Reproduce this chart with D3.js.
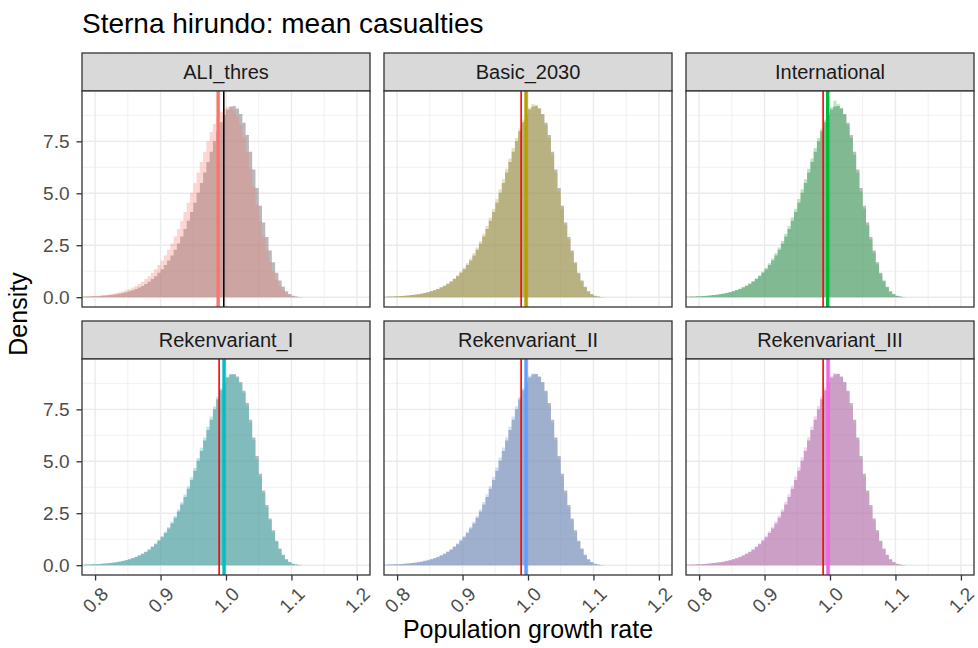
<!DOCTYPE html>
<html>
<head>
<meta charset="utf-8">
<script src="https://cdn.jsdelivr.net/npm/d3@7"></script>
<style>
  body { margin: 0; background: #fff; }
  text { font-family: "Liberation Sans", Arial, Helvetica, sans-serif; }
</style>
</head>
<body>
<div id="chart-area"></div>
<script>
// canvas
const width = 978, height = 648;

// facets
const scenarios = ["ALI_thres", "Basic_2030", "International", "Rekenvariant_I", "Rekenvariant_II", "Rekenvariant_III"];
const scenarioColors = ["#F8766D", "#B79F00", "#00BA38", "#00BFC4", "#619CFF", "#F564E3"];

// histogram bins (left edges start at binStart, width binWidth)
const binStart = 0.78, binWidth = 0.005;

// grey reference histogram (same in every panel)
const baseline = [0.02,0.03,0.03,0.04,0.05,0.06,0.07,0.08,0.10,0.12,
  0.14,0.17,0.20,0.24,0.28,0.33,0.39,0.46,0.54,0.63,
  0.74,0.87,1.01,1.17,1.35,1.55,1.77,2.01,2.28,2.58,
  2.92,3.28,3.68,4.10,4.55,5.02,5.50,6.00,6.50,7.00,
  7.50,7.98,8.42,8.78,9.03,9.18,9.20,9.08,8.82,8.40,
  7.80,7.00,6.15,5.25,4.40,3.60,2.90,2.25,1.68,1.18,
  0.80,0.50,0.29,0.15,0.07,0.03,0.01,0.00];

// scenario histograms
const aliThres = [0.03,0.04,0.05,0.06,0.07,0.08,0.10,0.12,0.14,0.17,
  0.20,0.24,0.28,0.33,0.39,0.46,0.54,0.63,0.74,0.87,
  1.01,1.17,1.35,1.55,1.77,2.01,2.28,2.58,2.92,3.28,
  3.68,4.10,4.55,5.02,5.50,6.00,6.50,7.00,7.50,7.95,
  8.35,8.68,8.92,9.08,9.16,9.12,8.98,8.70,8.28,7.70,
  6.98,6.18,5.30,4.45,3.65,2.92,2.28,1.70,1.22,0.84,
  0.55,0.33,0.18,0.09,0.04,0.02,0.01,0.00];
const basic2030 = [0.02,0.03,0.03,0.04,0.05,0.06,0.07,0.09,0.11,0.13,
  0.15,0.18,0.21,0.25,0.30,0.35,0.41,0.49,0.57,0.67,
  0.78,0.91,1.06,1.23,1.42,1.63,1.86,2.11,2.39,2.70,
  3.05,3.42,3.83,4.26,4.72,5.20,5.68,6.18,6.68,7.18,
  7.66,8.12,8.54,8.88,9.12,9.30,9.26,9.10,8.78,8.30,
  7.66,6.85,6.00,5.10,4.25,3.46,2.78,2.14,1.58,1.10,
  0.74,0.46,0.26,0.13,0.06,0.03,0.01,0.00];
const international = [0.02,0.03,0.03,0.04,0.05,0.06,0.07,0.09,0.11,0.13,
  0.15,0.18,0.21,0.25,0.30,0.35,0.41,0.49,0.57,0.67,
  0.78,0.91,1.06,1.23,1.42,1.63,1.86,2.11,2.39,2.70,
  3.05,3.42,3.83,4.26,4.72,5.20,5.68,6.18,6.68,7.18,
  7.66,8.12,8.54,8.90,9.14,9.45,9.28,9.10,8.78,8.30,
  7.66,6.85,6.00,5.10,4.25,3.46,2.78,2.14,1.58,1.10,
  0.74,0.46,0.26,0.13,0.06,0.03,0.01,0.00];
const rekenI = [0.02,0.03,0.03,0.04,0.05,0.06,0.08,0.09,0.11,0.13,
  0.15,0.18,0.21,0.25,0.29,0.35,0.41,0.48,0.57,0.66,
  0.78,0.91,1.05,1.22,1.41,1.62,1.84,2.09,2.37,2.68,
  3.03,3.40,3.80,4.23,4.68,5.16,5.65,6.15,6.66,7.15,
  7.64,8.10,8.52,8.85,9.08,9.20,9.16,9.02,8.74,8.30,
  7.68,6.88,6.02,5.12,4.28,3.48,2.80,2.16,1.60,1.12,
  0.75,0.47,0.27,0.14,0.06,0.03,0.01,0.00];
const rekenII = [0.02,0.03,0.04,0.04,0.05,0.06,0.07,0.09,0.11,0.13,
  0.15,0.18,0.22,0.26,0.30,0.35,0.42,0.49,0.57,0.67,
  0.78,0.92,1.06,1.23,1.42,1.62,1.85,2.10,2.38,2.69,
  3.04,3.41,3.81,4.24,4.70,5.18,5.66,6.16,6.67,7.16,
  7.65,8.11,8.53,8.87,9.10,9.24,9.20,9.04,8.76,8.31,
  7.68,6.87,6.01,5.12,4.27,3.47,2.79,2.15,1.59,1.11,
  0.75,0.46,0.26,0.14,0.06,0.03,0.01,0.00];
const rekenIII = [0.02,0.03,0.03,0.04,0.05,0.06,0.07,0.09,0.11,0.13,
  0.15,0.18,0.21,0.25,0.30,0.35,0.41,0.49,0.57,0.67,
  0.78,0.91,1.06,1.23,1.42,1.63,1.86,2.11,2.39,2.70,
  3.05,3.42,3.82,4.25,4.71,5.19,5.67,6.17,6.67,7.17,
  7.66,8.12,8.54,8.88,9.11,9.25,9.22,9.06,8.77,8.31,
  7.67,6.86,6.00,5.11,4.26,3.46,2.78,2.14,1.58,1.10,
  0.74,0.46,0.26,0.13,0.06,0.03,0.01,0.00];
const scenarioDensity = [aliThres, basic2030, international, rekenI, rekenII, rekenIII];

// vertical lines: thick = scenario mean, thin = reference mean
const scenarioMeans = [0.988, 0.997, 0.9965, 0.997, 0.997, 0.997];
const refMeans = [0.9966, 0.9895, 0.9895, 0.9895, 0.9895, 0.9895];
const refLineColors = ["black", "red", "red", "red", "red", "red"];

// axes
const xLimits = [0.8, 1.2];
const xTicks = [0.8, 0.9, 1.0, 1.1, 1.2];
const xMinor = [0.85, 0.95, 1.05, 1.15];
const yTicks = [0, 2.5, 5, 7.5];
const yMinor = [1.25, 3.75, 6.25, 8.75];

// layout
const marginLeft = 82, marginTop = 53;
const panelW = 288, stripH = 38, plotH = 216, gapX = 14, gapY = 14;

const svg = d3.select("#chart-area").append("svg")
  .attr("width", width)
  .attr("height", height);

svg.append("rect").attr("width", width).attr("height", height).attr("fill", "#fff");

// scales
let xPad = (xLimits[1] - xLimits[0]) * 0.05;
let x = d3.scaleLinear()
  .domain([xLimits[0] - xPad, xLimits[1] + xPad])
  .range([0, panelW]);

let yMax = d3.max([baseline].concat(scenarioDensity), s => d3.max(s));
let y = d3.scaleLinear()
  .domain([-0.05 * yMax, 1.05 * yMax])
  .range([plotH, 0]);

// step area for a histogram
function histPath(values) {
  let pts = values.map((d, i) => [binStart + i * binWidth, d]);
  pts.push([binStart + values.length * binWidth, values[values.length - 1]]);
  return d3.area()
    .x(p => x(p[0]))
    .y0(y(0))
    .y1(p => y(p[1]))
    .curve(d3.curveStepAfter)(pts);
}

let defs = svg.append("defs");
defs.append("clipPath").attr("id", "panel-clip")
  .append("rect").attr("width", panelW).attr("height", plotH);

scenarios.forEach((name, i) => {
  let col = i % 3, row = Math.floor(i / 3);
  let px = marginLeft + col * (panelW + gapX);
  let py = marginTop + row * (stripH + plotH + gapY);

  // strip
  let strip = svg.append("g").attr("transform", `translate(${px},${py})`);
  strip.append("rect")
    .attr("width", panelW).attr("height", stripH)
    .attr("fill", "#d9d9d9").attr("stroke", "#333333").attr("stroke-width", 1.3);
  strip.append("text")
    .attr("x", panelW / 2).attr("y", stripH / 2 + 7)
    .attr("text-anchor", "middle")
    .attr("font-size", 20).attr("fill", "#1a1a1a")
    .text(name);

  let g = svg.append("g").attr("transform", `translate(${px},${py + stripH})`);
  g.append("rect").attr("width", panelW).attr("height", plotH).attr("fill", "#fff");

  // grid
  let grid = g.append("g").attr("clip-path", "url(#panel-clip)");
  grid.selectAll(".xminor").data(xMinor).enter().append("line")
    .attr("x1", d => x(d)).attr("x2", d => x(d)).attr("y1", 0).attr("y2", plotH)
    .attr("stroke", "#ebebeb").attr("stroke-width", 0.7);
  grid.selectAll(".yminor").data(yMinor).enter().append("line")
    .attr("y1", d => y(d)).attr("y2", d => y(d)).attr("x1", 0).attr("x2", panelW)
    .attr("stroke", "#ebebeb").attr("stroke-width", 0.7);
  grid.selectAll(".xmajor").data(xTicks).enter().append("line")
    .attr("x1", d => x(d)).attr("x2", d => x(d)).attr("y1", 0).attr("y2", plotH)
    .attr("stroke", "#ebebeb").attr("stroke-width", 1.4);
  grid.selectAll(".ymajor").data(yTicks).enter().append("line")
    .attr("y1", d => y(d)).attr("y2", d => y(d)).attr("x1", 0).attr("x2", panelW)
    .attr("stroke", "#ebebeb").attr("stroke-width", 1.4);

  // histograms
  let marks = g.append("g").attr("clip-path", "url(#panel-clip)");
  marks.append("path").attr("d", histPath(baseline))
    .attr("fill", "#7f7f7f").attr("fill-opacity", 0.55);
  marks.append("path").attr("d", histPath(scenarioDensity[i]))
    .attr("fill", scenarioColors[i]).attr("fill-opacity", 0.3);

  // mean lines
  marks.append("line")
    .attr("x1", x(scenarioMeans[i])).attr("x2", x(scenarioMeans[i]))
    .attr("y1", 0).attr("y2", plotH)
    .attr("stroke", scenarioColors[i]).attr("stroke-width", 3.4);
  marks.append("line")
    .attr("x1", x(refMeans[i])).attr("x2", x(refMeans[i]))
    .attr("y1", 0).attr("y2", plotH)
    .attr("stroke", refLineColors[i]).attr("stroke-width", 1.6);

  // border
  g.append("rect").attr("width", panelW).attr("height", plotH)
    .attr("fill", "none").attr("stroke", "#333333").attr("stroke-width", 1.3);

  // y axis on first column
  if (col === 0) {
    let yaxis = d3.axisLeft(y).tickValues(yTicks).tickFormat(d3.format(".1f"))
      .tickSize(5.5).tickPadding(7);
    let ya = g.append("g").attr("class", "y-axis axis").call(yaxis);
    ya.select(".domain").remove();
    ya.selectAll("line").attr("stroke", "#333333").attr("stroke-width", 1.3);
    ya.selectAll("text").attr("fill", "#4d4d4d").attr("font-size", 19)
      .attr("font-family", "Liberation Sans, Arial, sans-serif");
  }

  // x axis on bottom row
  if (row === 1) {
    let xaxis = d3.axisBottom(x).tickValues(xTicks).tickFormat(d3.format(".1f"))
      .tickSize(5.5);
    let xa = g.append("g").attr("class", "x-axis axis")
      .attr("transform", `translate(0,${plotH})`).call(xaxis);
    xa.select(".domain").remove();
    xa.selectAll("line").attr("stroke", "#333333").attr("stroke-width", 1.3);
    xa.selectAll("text")
      .attr("y", null).attr("dy", null)
      .attr("text-anchor", "middle")
      .attr("dominant-baseline", "central")
      .attr("transform", "translate(0,25) rotate(-45)")
      .attr("fill", "#4d4d4d").attr("font-size", 19)
      .attr("font-family", "Liberation Sans, Arial, sans-serif");
  }
});

// titles
svg.append("text")
  .attr("x", marginLeft).attr("y", 33)
  .attr("font-size", 28).attr("fill", "#000")
  .text("Sterna hirundo: mean casualties");

svg.append("text")
  .attr("x", (marginLeft + marginLeft + 3 * panelW + 2 * gapX) / 2).attr("y", 638)
  .attr("text-anchor", "middle")
  .attr("font-size", 25).attr("fill", "#000")
  .text("Population growth rate");

svg.append("text")
  .attr("transform", `translate(27,${(marginTop + marginTop + 2 * (stripH + plotH) + gapY) / 2}) rotate(-90)`)
  .attr("text-anchor", "middle")
  .attr("font-size", 25).attr("fill", "#000")
  .text("Density");
</script>
</body>
</html>
